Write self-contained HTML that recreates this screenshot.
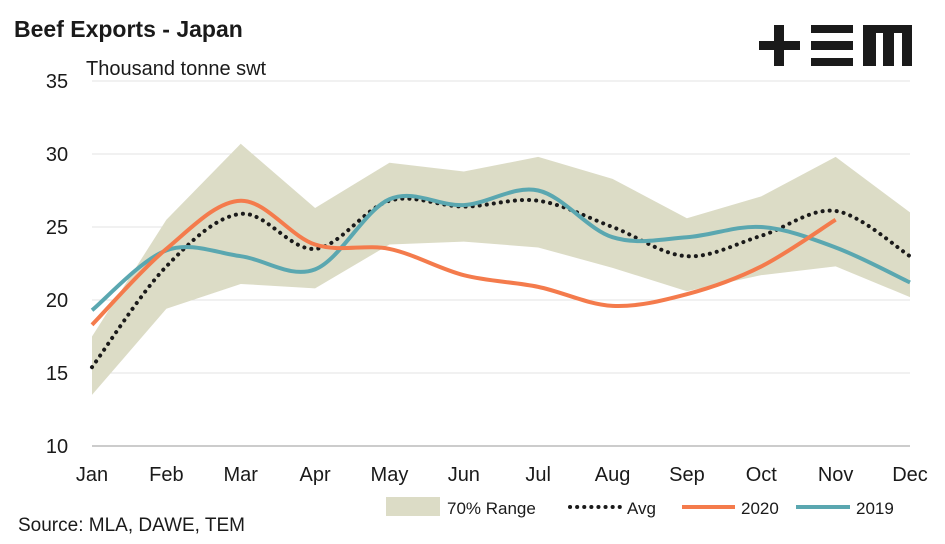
<!DOCTYPE html>
<html><head><meta charset="utf-8"><style>
body{margin:0;background:#fff;font-family:"Liberation Sans",sans-serif;}
svg text{font-family:"Liberation Sans",sans-serif;fill:#1a1a1a;}
</style></head><body>
<svg width="945" height="539" viewBox="0 0 945 539" xmlns="http://www.w3.org/2000/svg">
<text x="14" y="37" font-size="23" font-weight="bold">Beef Exports - Japan</text>
<text x="86" y="75" font-size="20">Thousand tonne swt</text>
<g fill="#1a1a1a">
<rect x="759" y="41" width="41" height="9"/><rect x="774" y="25" width="10" height="41"/>
<rect x="811" y="25" width="42" height="8"/><rect x="811" y="41" width="42" height="9"/><rect x="811" y="58" width="42" height="8"/>
<rect x="863" y="25" width="49" height="8"/><rect x="863" y="25" width="13" height="41"/><rect x="883" y="25" width="11" height="41"/><rect x="902" y="25" width="10" height="41"/>
</g>
<g id="grid"></g><g id="plot"></g><g id="axes"></g>
<g>
<rect x="386" y="497" width="54" height="19" fill="#dcdcc6"/>
<text x="447" y="514" font-size="17">70% Range</text>
<line x1="570" y1="507" x2="622" y2="507" stroke="#1a1a1a" stroke-width="4" stroke-dasharray="0.1 7" stroke-linecap="round"/>
<text x="627" y="514" font-size="17">Avg</text>
<line x1="682" y1="507" x2="735" y2="507" stroke="#f47b4c" stroke-width="4"/>
<text x="741" y="514" font-size="17">2020</text>
<line x1="796" y1="507" x2="850" y2="507" stroke="#5aa7b0" stroke-width="4"/>
<text x="856" y="514" font-size="17">2019</text>
</g>
<text x="18" y="531" font-size="19">Source: MLA, DAWE, TEM</text>
</svg>
<script>
const months=["Jan","Feb","Mar","Apr","May","Jun","Jul","Aug","Sep","Oct","Nov","Dec"];
const yTicks=[10,15,20,25,30,35];
const rangeUpper=[17.5,25.5,30.7,26.3,29.4,28.8,29.8,28.3,25.6,27.1,29.8,26.0];
const rangeLower=[13.5,19.4,21.1,20.8,23.8,24.0,23.6,22.2,20.6,21.7,22.3,20.2];
const avg=[15.4,22.3,25.9,23.5,26.8,26.4,26.8,25.0,23.0,24.4,26.1,23.0];
const s2020=[18.3,23.5,26.8,23.8,23.5,21.7,20.9,19.6,20.4,22.3,25.5];
const s2019=[19.3,23.4,23.0,22.1,26.9,26.5,27.5,24.3,24.3,25.0,23.6,21.2];
const NS="http://www.w3.org/2000/svg";
const X=i=>92+i*(910-92)/11;
const Y=v=>446-(v-10)*(446-81)/25;
function mk(t,a,p){const e=document.createElementNS(NS,t);for(const k in a)e.setAttribute(k,a[k]);p.appendChild(e);return e;}
const grid=document.getElementById('grid'),plot=document.getElementById('plot'),axes=document.getElementById('axes');
yTicks.forEach(v=>{
 if(v>10){const l=mk('line',{x1:92,x2:910,y1:Y(v),y2:Y(v),stroke:'#e3e3e3','stroke-width':1},grid);
 
 }
 const t=mk('text',{x:57,y:Y(v)+7,'font-size':20,'text-anchor':'middle'},axes);t.textContent=v;
 
 
});
const ax=mk('line',{x1:92,x2:910,y1:446,y2:446,stroke:'#999','stroke-width':1},axes);


months.forEach((m,i)=>{const t=mk('text',{x:X(i),y:481,'font-size':20,'text-anchor':'middle'},axes);t.textContent=m;
 
 });
// range
let d=rangeUpper.map((v,i)=>(i?'L':'M')+X(i)+','+Y(v)).join('');
for(let i=rangeLower.length-1;i>=0;i--)d+='L'+X(i)+','+Y(rangeLower[i]);
const area=mk('path',{d:d+'Z',fill:'#dcdcc6'},plot);


function smooth(vals){const p=vals.map((v,i)=>[X(i),Y(v)]);let s='M'+p[0][0]+','+p[0][1];
 for(let i=0;i<p.length-1;i++){const p0=p[i-1]||p[i],p1=p[i],p2=p[i+1],p3=p[i+2]||p2;
 s+='C'+(p1[0]+(p2[0]-p0[0])/6)+','+(p1[1]+(p2[1]-p0[1])/6)+' '+(p2[0]-(p3[0]-p1[0])/6)+','+(p2[1]-(p3[1]-p1[1])/6)+' '+p2[0]+','+p2[1];}
 return s;}
const la=mk('path',{d:smooth(avg),fill:'none',stroke:'#1a1a1a','stroke-width':4,'stroke-dasharray':'0.1 7','stroke-linecap':'round'},plot);


const l19=mk('path',{d:smooth(s2019),fill:'none',stroke:'#5aa7b0','stroke-width':4},plot);


const l20=mk('path',{d:smooth(s2020),fill:'none',stroke:'#f47b4c','stroke-width':4},plot);


</script>
</body></html>
